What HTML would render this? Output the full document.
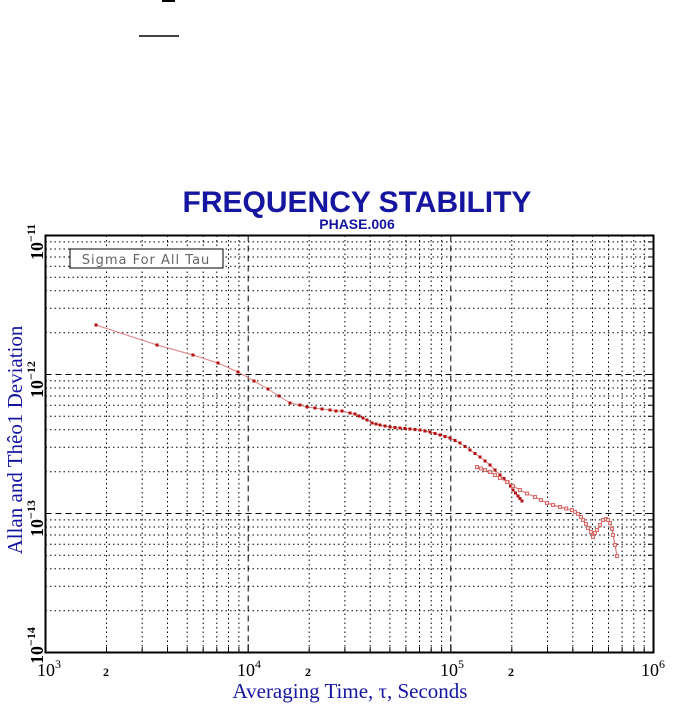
<!DOCTYPE html>
<html><head><meta charset="utf-8"><style>body{margin:0;background:#fff}svg{display:block}</style></head><body>
<svg width="674" height="706" xmlns="http://www.w3.org/2000/svg">
<defs>
<marker id="m" markerUnits="userSpaceOnUse" markerWidth="3" markerHeight="3" refX="1.5" refY="1.5"><rect width="3" height="3" fill="#b01010"/></marker>
<marker id="m2" markerUnits="userSpaceOnUse" markerWidth="4" markerHeight="4" refX="2" refY="2"><rect x="0.5" y="0.5" width="3" height="3" fill="#fbe0e0" stroke="#d86a6a" stroke-width="1"/></marker>
</defs>
<rect width="674" height="706" fill="#fff"/>
<line x1="162" y1="1" x2="175" y2="1" stroke="#000" stroke-width="2"/>
<line x1="139" y1="36" x2="179" y2="36" stroke="#000" stroke-width="1.5"/>
<text x="357" y="212" font-family="Liberation Sans, sans-serif" font-weight="bold" font-size="30" fill="#1515a0" text-anchor="middle">FREQUENCY STABILITY</text>
<text x="357" y="229" font-family="Liberation Sans, sans-serif" font-weight="bold" font-size="14" fill="#1515a0" text-anchor="middle">PHASE.006</text>
<g stroke="#000" stroke-width="1" fill="none">
<path stroke-dasharray="1.5,3" d="M106.5 235.5V652.5M142.2 235.5V652.5M167.5 235.5V652.5M187.2 235.5V652.5M203.2 235.5V652.5M216.8 235.5V652.5M228.5 235.5V652.5M238.9 235.5V652.5M309.2 235.5V652.5M344.9 235.5V652.5M370.2 235.5V652.5M389.9 235.5V652.5M405.9 235.5V652.5M419.5 235.5V652.5M431.2 235.5V652.5M441.6 235.5V652.5M511.8 235.5V652.5M547.5 235.5V652.5M572.8 235.5V652.5M592.5 235.5V652.5M608.5 235.5V652.5M622.1 235.5V652.5M633.8 235.5V652.5M644.2 235.5V652.5"/>
<path stroke-dasharray="1.5,3" d="M45.5 610.7H653.5M45.5 586.2H653.5M45.5 568.8H653.5M45.5 555.3H653.5M45.5 544.3H653.5M45.5 535H653.5M45.5 527H653.5M45.5 519.9H653.5M45.5 471.7H653.5M45.5 447.2H653.5M45.5 429.8H653.5M45.5 416.3H653.5M45.5 405.3H653.5M45.5 396H653.5M45.5 388H653.5M45.5 380.9H653.5M45.5 332.7H653.5M45.5 308.2H653.5M45.5 290.8H653.5M45.5 277.3H653.5M45.5 266.3H653.5M45.5 257H653.5M45.5 249H653.5M45.5 241.9H653.5"/>
<path stroke-dasharray="6,4" d="M248.2 235.5V652.5M450.8 235.5V652.5M45.5 513.5H653.5M45.5 374.5H653.5"/>
<path d="M106.5 647V652.5M142.2 647V652.5M167.5 647V652.5M187.2 647V652.5M203.2 647V652.5M216.8 647V652.5M228.5 647V652.5M238.9 647V652.5M248.2 644V652.5M309.2 647V652.5M344.9 647V652.5M370.2 647V652.5M389.9 647V652.5M405.9 647V652.5M419.5 647V652.5M431.2 647V652.5M441.6 647V652.5M450.8 644V652.5M511.8 647V652.5M547.5 647V652.5M572.8 647V652.5M592.5 647V652.5M608.5 647V652.5M622.1 647V652.5M633.8 647V652.5M644.2 647V652.5"/>
<path d="M648 610.7H653.5M648 586.2H653.5M648 568.8H653.5M648 555.3H653.5M648 544.3H653.5M648 535H653.5M648 527H653.5M648 519.9H653.5M645 513.5H653.5M648 471.7H653.5M648 447.2H653.5M648 429.8H653.5M648 416.3H653.5M648 405.3H653.5M648 396H653.5M648 388H653.5M648 380.9H653.5M645 374.5H653.5M648 332.7H653.5M648 308.2H653.5M648 290.8H653.5M648 277.3H653.5M648 266.3H653.5M648 257H653.5M648 249H653.5M648 241.9H653.5"/>
</g>
<rect x="45.5" y="235.5" width="608" height="417" fill="none" stroke="#000" stroke-width="2"/>
<rect x="70" y="249" width="153" height="19" fill="#fff" stroke="#000"/>
<text x="146" y="264" font-family="DejaVu Sans, sans-serif" font-size="13" fill="#666" text-anchor="middle" letter-spacing="1">Sigma For All Tau</text>
<polyline fill="none" stroke="#e08080" stroke-width="1" marker-start="url(#m)" marker-mid="url(#m)" marker-end="url(#m)" points="96,325 157,345 193,355 218,363 238,372 254,381 268,389 279,396 290,403 300,405 307,407 315,408 322,409 330,410 336,411 342,411 350,413 355,414 359,416 363,418 367,420 372,423 376,424 380,425 385,426 390,427 395,427.5 400,428 405,428.5 410,429 415,429.5 420,430 425,431 430,432 435,433.5 440,435 445,436.5 450,438 455,440.5 460,443 465,446.5 470,450 475,453.5 480,457 485,461 490,465 495,470 500,475 504,478.5 508,482 510.5,486 513,490 515.5,493 518,496 520,498.5 522,501"/>
<polyline fill="none" stroke="#e07878" stroke-width="1.2" marker-start="url(#m2)" marker-mid="url(#m2)" marker-end="url(#m2)" points="477,467 481,468.5 485,470 490,472 495,475 500,478 507,482 513,486 520,490 527,493.5 535,497 541,500 547,503 553,505 560,507 566,508.5 572,510 575,512 578,514 581,517 583,520 586,524 588,528 591,532 593,537 595,533 597,530 600,525 603,520 606,519 608,520 610,523 612,529 613,535 615,545 617,556"/>
<g font-family="Liberation Serif, serif" font-size="18" fill="#000">
<text x="37" y="676">10<tspan font-size="12" dy="-8">3</tspan></text>
<text x="237" y="676">10<tspan font-size="12" dy="-8">4</tspan></text>
<text x="440" y="676">10<tspan font-size="12" dy="-8">5</tspan></text>
<text x="641" y="676">10<tspan font-size="12" dy="-8">6</tspan></text>
<text x="106" y="676" font-size="12" font-weight="bold" text-anchor="middle">2</text>
<text x="308" y="676" font-size="12" font-weight="bold" text-anchor="middle">2</text>
<text x="511" y="676" font-size="12" font-weight="bold" text-anchor="middle">2</text>
</g>
<g font-family="Liberation Serif, serif" font-size="18" font-weight="bold" fill="#000">
<text transform="translate(43,260) rotate(-90)">10<tspan font-size="12" dy="-8">−11</tspan></text>
<text transform="translate(43,398) rotate(-90)">10<tspan font-size="12" dy="-8">−12</tspan></text>
<text transform="translate(43,537) rotate(-90)">10<tspan font-size="12" dy="-8">−13</tspan></text>
<text transform="translate(43,664) rotate(-90)">10<tspan font-size="12" dy="-8">−14</tspan></text>
</g>
<text x="350" y="698" font-family="Liberation Serif, serif" font-size="21" fill="#1515a0" text-anchor="middle">Averaging Time, τ, Seconds</text>
<text transform="translate(22,440) rotate(-90)" font-family="Liberation Serif, serif" font-size="21" fill="#1515a0" text-anchor="middle">Allan and Thêo1 Deviation</text>
</svg>
</body></html>
